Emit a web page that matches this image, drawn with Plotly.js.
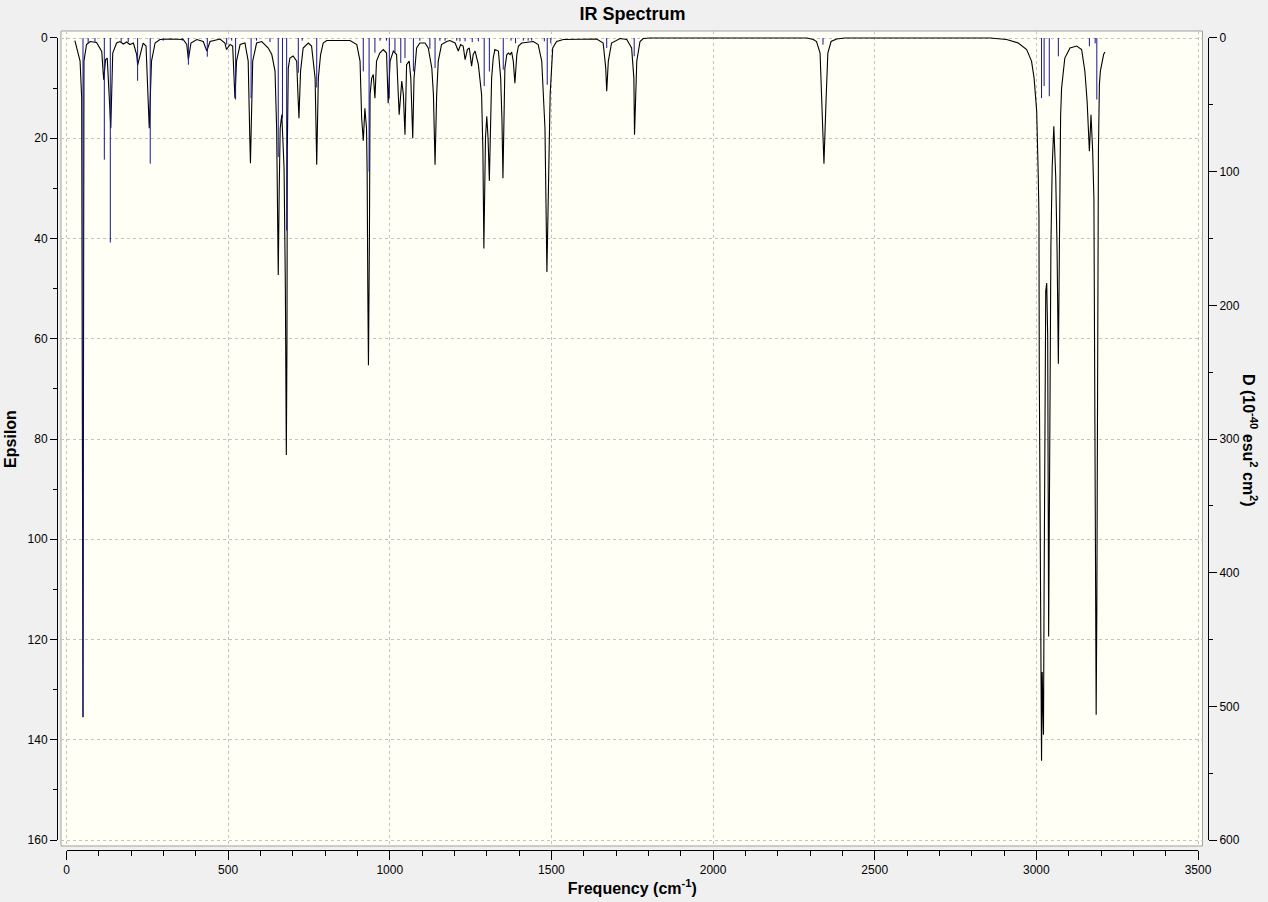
<!DOCTYPE html>
<html>
<head>
<meta charset="utf-8">
<script src="https://cdn.plot.ly/plotly-3.0.1.min.js"></script>
<style>
html,body{margin:0;padding:0;background:#F0F0F0;}
#chart{width:1268px;height:902px;}
</style>
</head>
<body>
<div id="chart"></div>
<script>
// Broadened IR spectrum (Epsilon, left axis)
const specFreq = [26,42,47,51,54,62,73,93,109,115,121,126,134,137,143,155,165,176,186,196,207,217,220,227,237,246,253,256,263,274,289,320,361,372,377,385,403,423,434,444,475,490,495,506,514,518,521,526,537,552,562,567,569,576,588,604,624,635,645,650,652,655,658,661,666,670,673,677,680,682,683,686,691,701,712,716,719,724,732,748,758,769,774,779,786,794,805,877,898,908,913,918,923,928,930,932,934,937,939,944,949,954,959,969,980,990,995,1001,1011,1021,1029,1037,1042,1047,1052,1060,1065,1071,1075,1083,1093,1109,1119,1130,1135,1140,1145,1150,1160,1176,1186,1202,1212,1219,1227,1233,1240,1246,1253,1258,1264,1274,1284,1288,1291,1296,1300,1304,1308,1315,1320,1325,1336,1343,1347,1350,1356,1362,1367,1372,1377,1382,1387,1393,1398,1408,1444,1459,1470,1480,1486,1496,1504,1516,1537,1640,1660,1668,1671,1676,1686,1712,1733,1748,1755,1757,1764,1774,1784,1805,2290,2310,2320,2331,2336,2343,2349,2355,2365,2382,2408,2857,2908,2944,2970,2985,2993,3001,3006,3008,3009,3013,3016,3018,3022,3024,3026,3029,3032,3035,3038,3042,3045,3049,3054,3060,3064,3068,3071,3073,3075,3078,3088,3104,3125,3140,3150,3157,3164,3169,3174,3178,3181,3183,3185,3187,3189,3192,3195,3198,3208,3212];
const specEps = [0.5,4.6,12,135.5,4.6,1.3,0.7,0.9,2.7,8.3,4.3,4,14,18,3,1,0.7,1.2,0.8,1.3,1,3.3,5.4,3.6,1,1.6,11.3,18,4.6,1,0.3,0.2,0.3,1.3,4.3,1,0.3,0.7,2.6,0.7,0.2,1,2.3,1.3,1.6,8,12,4.6,1.3,1,4.6,20,25,4.6,1,0.7,2,3.3,6.6,18,30,47.3,30,18,15.3,20,26,50,83.2,60,22.3,6,4,3.6,4.6,11.4,16,6.6,2,1,1.6,8,25.3,8,3.3,1,0.5,0.5,1.3,4.6,16,20.5,14,18,27,50,65.3,40,11.3,8,7.3,12,4.6,3,2.3,3,13,4.6,2.6,3.3,15.3,8.6,11.3,19.3,5.3,4.6,8,20,8,2,1,1,2,6,11.3,25.3,11.3,4.6,1.3,0.7,0.5,1,2.6,1.3,1.6,4.3,2.3,2,5.6,3.3,2.6,5.3,11.3,22.3,42,20,15.6,20,28.5,8,4,2.3,2.6,8,16.4,28,6,3.3,3,3.3,2.8,4.6,9,3.3,1.6,1,0.7,1.3,4.6,18,46.7,11.3,2,0.7,0.3,0.2,1,6,10.6,4.6,1,0.1,0.3,2,8,19.3,4.6,0.7,0.1,0,0,0.3,0.7,3,13.3,25.1,13.3,3,0.7,0.2,0,0,0.3,1,2.3,4.6,8,14.6,28,35.5,66,116,144.2,126.5,139,109,65.4,50.5,48.9,59.5,119.4,77.6,41.4,25.7,17.6,28,42,65,42,22.3,15.6,10,4,2,1.6,2.3,6.6,12.6,22.6,15.3,22.3,32,68.6,114,135,114,62.3,22.3,9.3,6.6,3.3,2.8];

// Individual vibrational modes (D, right axis)
const stickFreq = [51,67,88,117,135.5,169,191,220,259,299,358,377,435.5,495.5,511,523,571,588,629.5,655,668,681,717,729,774,918,936,954,970,990,998.5,1016,1034,1047,1073,1093,1124,1140,1155,1171,1207,1217,1233,1255,1274,1292,1308,1351,1375,1389,1413,1428,1439,1478,1487,1498,1671,1756,2340,3016,3024,3040,3068,3164,3182,3187];
const stickD = [508,4,3,91,153,3,3,32,94,2,2,20,14,5,2,46,45,2,3,89,60,144,26,2,37,25,100,11,2,2,45,10.5,18.7,15,25,2,8,22.4,2,2,2,2.5,2.5,3,2.5,36,25,23.7,2,4,2,2,2,2.5,35,4,7.5,13.7,5,45,36,43.6,13.7,6.2,4,46];

const chartTitle = 'IR Spectrum';
const xTitle = 'Frequency (cm<sup>-1</sup>)';
const yTitle = 'Epsilon';
const y2Title = 'D (10<sup>-40</sup> esu<sup>2</sup> cm<sup>2</sup>)';

const stickX = [], stickY = [];
for (let i = 0; i < stickFreq.length; i++) {
  stickX.push(stickFreq[i], stickFreq[i], null);
  stickY.push(0, stickD[i], null);
}

const FONT = 'Liberation Sans, Arial, Helvetica, sans-serif';

const traces = [
  {type:'scatter', mode:'lines', x:specFreq, y:specEps, xaxis:'x', yaxis:'y',
   line:{color:'#000000', width:1.1}, hoverinfo:'x+y', name:'Epsilon'},
  {type:'scatter', mode:'lines', x:stickX, y:stickY, xaxis:'x', yaxis:'y3',
   line:{color:'#16168f', width:1}, connectgaps:false, hoverinfo:'x+y', name:'D'},
  {type:'scatter', mode:'lines', x:[null], y:[null], xaxis:'x2', yaxis:'y2', hoverinfo:'skip', showlegend:false},
  {type:'scatter', mode:'lines', x:[null], y:[null], xaxis:'x2', yaxis:'y4', hoverinfo:'skip', showlegend:false}
];

const frameX = [0.003475, 0.995222];
const frameY = [0.004884, 1];

const layout = {
  width:1268, height:902,
  margin:{l:57, r:60, t:31, b:52, pad:0},
  paper_bgcolor:'#F0F0F0',
  plot_bgcolor:'rgba(0,0,0,0)',
  showlegend:false,
  font:{family:FONT, size:12, color:'#000000'},
  title:{text:chartTitle, font:{family:FONT, size:18, weight:'bold', color:'#000000'},
         x:0.5, xref:'paper', xanchor:'center', y:1-14/902, yref:'container', yanchor:'middle'},
  xaxis:{domain:frameX, range:[-17.01, 3513.9], anchor:'y',
         tickmode:'linear', tick0:0, dtick:500,
         showgrid:true, gridcolor:'#C2C2C2', gridwidth:1, griddash:'3px,3px',
         showticklabels:false, ticks:'', showline:false, zeroline:false, fixedrange:true},
  yaxis:{domain:frameY, range:[161.197, -1.3965], anchor:'x',
         tickmode:'linear', tick0:0, dtick:20,
         showgrid:true, gridcolor:'#C2C2C2', gridwidth:1, griddash:'3px,3px',
         showticklabels:false, ticks:'', showline:false, zeroline:false, fixedrange:true},
  yaxis3:{overlaying:'y', anchor:'x', range:[604.49, -5.237], visible:false, fixedrange:true},
  xaxis2:{domain:[0.008254, 0.991312], range:[0, 3500], anchor:'free', position:0,
          showline:true, linecolor:'#000000', linewidth:1,
          tickmode:'linear', tick0:0, dtick:500,
          ticks:'outside', ticklen:9, tickwidth:1, tickcolor:'#000000',
          minor:{ticks:'outside', dtick:100, ticklen:5, tickwidth:1, tickcolor:'#000000', showgrid:false},
          showgrid:false, zeroline:false, tickfont:{family:FONT, size:12, color:'#000000'},
          title:{text:xTitle, font:{family:FONT, size:16, weight:'bold', color:'#000000'}, standoff:6},
          fixedrange:true},
  yaxis2:{domain:[0.01221, 0.991453], range:[160, 0], anchor:'free', position:0,
          showline:true, linecolor:'#000000', linewidth:1,
          tickmode:'linear', tick0:0, dtick:20,
          ticks:'outside', ticklen:7, tickwidth:1, tickcolor:'#000000',
          minor:{ticks:'outside', dtick:10, ticklen:4, tickwidth:1, tickcolor:'#000000', showgrid:false},
          showgrid:false, zeroline:false, tickfont:{family:FONT, size:12, color:'#000000'},
          title:{text:yTitle, font:{family:FONT, size:16, weight:'bold', color:'#000000'}, standoff:5},
          fixedrange:true},
  yaxis4:{overlaying:'y2', side:'right', anchor:'free', position:1, range:[600, 0],
          showline:true, linecolor:'#000000', linewidth:1,
          tickmode:'linear', tick0:0, dtick:100,
          ticks:'outside', ticklen:8, tickwidth:1, tickcolor:'#000000',
          minor:{ticks:'outside', dtick:50, ticklen:4, tickwidth:1, tickcolor:'#000000', showgrid:false},
          showgrid:false, zeroline:false, tickfont:{family:FONT, size:12, color:'#000000'},
          fixedrange:true},
  shapes:[{type:'rect', xref:'paper', yref:'paper', x0:frameX[0], x1:frameX[1], y0:frameY[0], y1:frameY[1],
           fillcolor:'#FFFFF6', line:{color:'#A0A0A0', width:1}, layer:'below'}],
  annotations:[{text:y2Title, xref:'paper', yref:'paper', x:1.0365, y:0.5006, xanchor:'center', yanchor:'middle',
                textangle:90, showarrow:false, font:{family:FONT, size:16, weight:'bold', color:'#000000'}}]
};

Plotly.newPlot('chart', traces, layout, {displayModeBar:false, responsive:false});
</script>
</body>
</html>
